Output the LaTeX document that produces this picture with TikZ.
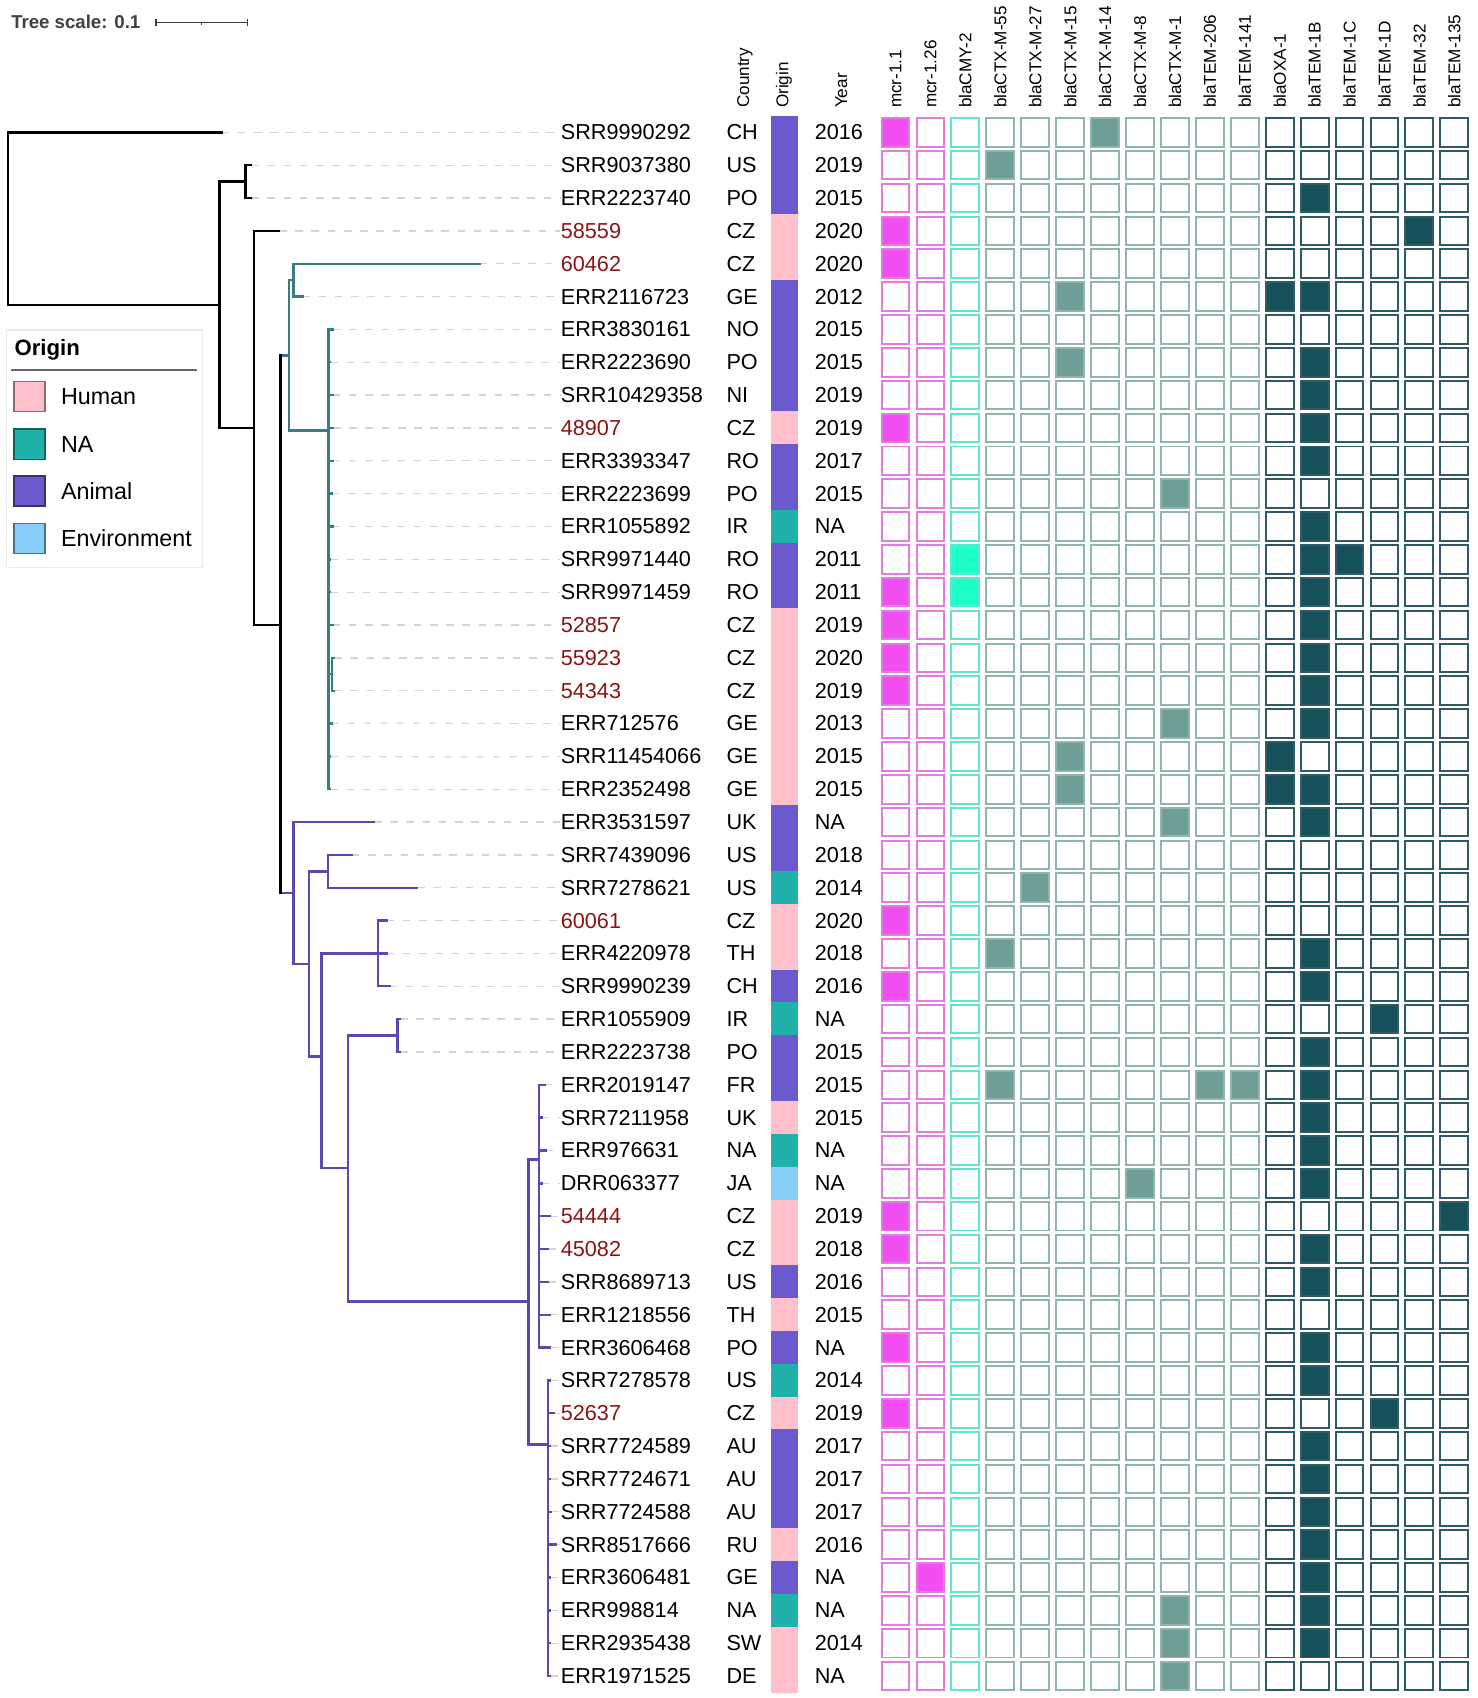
\documentclass[tikz,border=0pt]{standalone}
\usepackage{fontspec}
\setmainfont{Liberation Sans}

\definecolor{human}{HTML}{FFC0CB}
\definecolor{nasrc}{HTML}{20B2AA}
\definecolor{animal}{HTML}{6A5ACD}
\definecolor{environ}{HTML}{87CEFA}
\definecolor{tealclade}{HTML}{3B7B86}
\definecolor{purpleclade}{HTML}{5A4AAE}
\definecolor{czred}{HTML}{8B1414}
\definecolor{line1}{HTML}{E27BE2}
\definecolor{fill1}{HTML}{F24EF2}
\definecolor{line2}{HTML}{5FE5CF}
\definecolor{fill2}{HTML}{1FFFC8}
\definecolor{line3}{HTML}{8FB5AE}
\definecolor{fill3}{HTML}{6F9E97}
\definecolor{line4}{HTML}{2F5B63}
\definecolor{fill4}{HTML}{15505B}

\begin{document}
\begin{tikzpicture}[x=0.5pt, y=-0.5pt,
    branch/.style={line width=1.2pt, line cap=rect},
    tealbranch/.style={branch, draw=tealclade, line width=1.1pt},
    purplebranch/.style={branch, draw=purpleclade, line width=1.1pt},
    guide/.style={draw=black!17, line width=0.6pt, dash pattern=on 3.5pt off 4pt},
    taxon/.style={anchor=west, inner sep=0pt, font=\fontsize{10}{12}\selectfont},
    colhead/.style={rotate=90, anchor=west, inner sep=0pt, font=\fontsize{7.9}{9}\selectfont},
    genebox/.style={draw, line width=0.9pt, minimum width=12.85pt, minimum height=13.2pt, inner sep=0pt, outer sep=0pt},
    originbox/.style={minimum width=12.3pt, minimum height=15.4pt, inner sep=0pt},
    swatch/.style={line width=0.7pt, minimum width=14.2pt, minimum height=13.9pt, inner sep=0pt},
    legtext/.style={anchor=west, inner sep=0pt, font=\fontsize{10.75}{13}\selectfont}]
   \useasboundingbox (0,0) rectangle (1364,1568);

   % tree scale
   \node[anchor=west, inner sep=0pt, text=black!75, font=\bfseries\fontsize{8.6}{10}\selectfont] (treescale) at (10,20) {Tree scale: 0.1};
   \draw[black!75, line width=0.6pt] (144,20.9) -- (228.4,20.9);
   \draw[black!75, line width=0.6pt] (144,17.5) -- (144,24.3);
   \draw[black!75, line width=0.6pt] (228.4,17.5) -- (228.4,24.3);
   \draw[black!75, line width=0.6pt] (186.2,20.9) -- (186.2,23.4);

   % column heads
   \node[colhead] (hcountry) at (688,100) {Country};
   \node[colhead] (horigin) at (724,100) {Origin};
   \node[colhead] (hyear) at (777,100) {Year};
   \foreach \c/\gene in {1/mcr-1.1, 2/mcr-1.26, 3/blaCMY-2, 4/blaCTX-M-55, 5/blaCTX-M-27,
       6/blaCTX-M-15, 7/blaCTX-M-14, 8/blaCTX-M-8, 9/blaCTX-M-1, 10/blaTEM-206, 11/blaTEM-141,
       12/blaOXA-1, 13/blaTEM-1B, 14/blaTEM-1C, 15/blaTEM-1D, 16/blaTEM-32, 17/blaTEM-135}
     \node[colhead] (head\c) at ({826.95+32.25*(\c-1)},100) {\gene};

   % legend
   \draw[black!8, line width=0.6pt] (6.2,304.7) rectangle (186.8,523.9);
   \node[anchor=west, inner sep=0pt, font=\bfseries\fontsize{10.25}{12}\selectfont] (legtitle) at (13,322.8) {Origin};
   \draw[black!60, line width=0.7pt] (10.2,341.7) -- (181.6,341.7);
   \foreach \k/\src/\name/\y in {1/human/Human/366.2, 2/nasrc/NA/410.2, 3/animal/Animal/453.3, 4/environ/Environment/497.3} {
     \node[swatch, fill=\src, draw=\src!55!black] (sw\k) at (27.25,\y) {};
     \node[legtext] (lt\k) at (56,\y) {\name};
   }

   \begin{scope}[y=-15.165pt, yshift=-45.935pt]
   % rows: label, country, origin, year
   \foreach \r/\acc/\cty/\src/\yr/\col in {
       1/SRR9990292/CH/animal/2016/black, 2/SRR9037380/US/animal/2019/black,
       3/ERR2223740/PO/animal/2015/black, 4/58559/CZ/human/2020/czred,
       5/60462/CZ/human/2020/czred, 6/ERR2116723/GE/animal/2012/black,
       7/ERR3830161/NO/animal/2015/black, 8/ERR2223690/PO/animal/2015/black,
       9/SRR10429358/NI/animal/2019/black, 10/48907/CZ/human/2019/czred,
       11/ERR3393347/RO/animal/2017/black, 12/ERR2223699/PO/animal/2015/black,
       13/ERR1055892/IR/nasrc/NA/black, 14/SRR9971440/RO/animal/2011/black,
       15/SRR9971459/RO/animal/2011/black, 16/52857/CZ/human/2019/czred,
       17/55923/CZ/human/2020/czred, 18/54343/CZ/human/2019/czred,
       19/ERR712576/GE/human/2013/black, 20/SRR11454066/GE/human/2015/black,
       21/ERR2352498/GE/human/2015/black, 22/ERR3531597/UK/animal/NA/black,
       23/SRR7439096/US/animal/2018/black, 24/SRR7278621/US/nasrc/2014/black,
       25/60061/CZ/human/2020/czred, 26/ERR4220978/TH/human/2018/black,
       27/SRR9990239/CH/animal/2016/black, 28/ERR1055909/IR/nasrc/NA/black,
       29/ERR2223738/PO/animal/2015/black, 30/ERR2019147/FR/animal/2015/black,
       31/SRR7211958/UK/human/2015/black, 32/ERR976631/NA/nasrc/NA/black,
       33/DRR063377/JA/environ/NA/black, 34/54444/CZ/human/2019/czred,
       35/45082/CZ/human/2018/czred, 36/SRR8689713/US/animal/2016/black,
       37/ERR1218556/TH/human/2015/black, 38/ERR3606468/PO/animal/NA/black,
       39/SRR7278578/US/nasrc/2014/black, 40/52637/CZ/human/2019/czred,
       41/SRR7724589/AU/animal/2017/black, 42/SRR7724671/AU/animal/2017/black,
       43/SRR7724588/AU/animal/2017/black, 44/SRR8517666/RU/human/2016/black,
       45/ERR3606481/GE/animal/NA/black, 46/ERR998814/NA/nasrc/NA/black,
       47/ERR2935438/SW/human/2014/black, 48/ERR1971525/DE/human/NA/black} {
     \node[taxon, text=\col] (lab\r) at (517.5,\r) {\acc};
     \node[taxon] (cty\r) at (670.5,\r) {\cty};
     \node[originbox, fill=\src] (org\r) at (724.3,\r) {};
     \node[taxon] (yr\r) at (752,\r) {\yr};
   }

   % gene boxes
   \foreach \c in {1,...,17} {
     \pgfmathtruncatemacro\grp{\c<3 ? 1 : (\c<4 ? 2 : (\c<12 ? 3 : 4))}
     \foreach \r in {1,...,48}
       \node[genebox, draw=line\grp] (b\r-\c) at ({826.95+32.25*(\c-1)},\r) {};
   }
   \foreach \r/\hits in {1/{1,7}, 2/{4}, 3/{13}, 4/{1,16}, 5/{1}, 6/{6,12,13}, 8/{6,13},
       9/{13}, 10/{1,13}, 11/{13}, 12/{9}, 13/{13}, 14/{3,13,14}, 15/{1,3,13}, 16/{1,13},
       17/{1,13}, 18/{1,13}, 19/{9,13}, 20/{6,12}, 21/{6,12,13}, 22/{9,13}, 24/{5}, 25/{1},
       26/{4,13}, 27/{1,13}, 28/{15}, 29/{13}, 30/{4,10,11,13}, 31/{13}, 32/{13}, 33/{8,13},
       34/{1,17}, 35/{1,13}, 36/{13}, 38/{1,13}, 39/{13}, 40/{1,15}, 41/{13}, 42/{13},
       43/{13}, 44/{13}, 45/{2,13}, 46/{9,13}, 47/{9,13}, 48/{9}}
     \foreach \c in \hits {
       \pgfmathtruncatemacro\grp{\c<3 ? 1 : (\c<4 ? 2 : (\c<12 ? 3 : 4))}
       \filldraw[fill=fill\grp, draw=line\grp, line width=0.9pt] (b\r-\c.south west) rectangle (b\r-\c.north east);
     }

   % tree
   \coordinate (rt) at (7.3,3.63);
   \coordinate (na) at (202.8,6.255);
   \coordinate (nb) at (226.9,2.5);
   \coordinate (nc) at (234.4,10);
   \coordinate (nd) at (258.9,16);
   \coordinate (ne) at (266.6,7.79);
   \coordinate (ng) at (270.9,5.5);
   \coordinate (nh) at (303.5,10.08);
   \coordinate (nh2) at (306.5,17.5);
   \coordinate (nf) at (271.1,24.16);
   \coordinate (ni) at (285.3,26.32);
   \coordinate (nj) at (302.8,23.5);
   \coordinate (nk) at (296.8,29.14);
   \coordinate (nl) at (348.9,26);
   \coordinate (nm) at (321.6,32.54);
   \coordinate (nn) at (367.1,28.5);
   \coordinate (np) at (488.1,36.6);
   \coordinate (nq) at (498,32.27);
   \coordinate (nr) at (506.3,40.95);
   \foreach \r/\x in {1/204.5, 2/231.9, 3/231.9, 4/257.6, 5/443, 6/279.2, 7/307.5, 8/305,
       9/307, 10/307.5, 11/307, 12/306.5, 13/307, 14/305, 15/305, 16/307, 17/308.5, 18/308.5,
       19/306, 20/305, 21/305, 22/345.3, 23/324.9, 24/385.2, 25/356.9, 26/356.9, 27/359.5,
       28/369.4, 29/369.4, 30/503, 31/500, 32/503.6, 33/500, 34/508, 35/506, 36/506, 37/508,
       38/508, 39/508, 40/511, 41/508, 42/508, 43/509, 44/513, 45/508, 46/508, 47/508, 48/508}
     \coordinate (t\r) at (\x,\r);

   \foreach \r in {1,...,48}
     \draw[guide] (t\r) -- (lab\r.west);

   \draw[branch] (rt |- t1) -- (t1);
   \draw[branch] (rt |- na) -- (na);
   \draw[branch] (rt |- t1) -- (rt |- na);
   \draw[branch] (na |- nb) -- (nb);
   \draw[branch] (na |- nc) -- (nc);
   \draw[branch] (na |- nb) -- (na |- nc);
   \draw[branch] (nb |- t2) -- (t2);
   \draw[branch] (nb |- t3) -- (t3);
   \draw[branch] (nb |- t2) -- (nb |- t3);
   \draw[branch] (nc |- t4) -- (t4);
   \draw[branch] (nc |- nd) -- (nd);
   \draw[branch] (nc |- t4) -- (nc |- nd);

   \draw[tealbranch] (nd |- ne) -- (ne);
   \draw[tealbranch] (ne |- ng) -- (ng);
   \draw[tealbranch] (ne |- nh) -- (nh);
   \draw[tealbranch] (ne |- ng) -- (ne |- nh);
   \draw[tealbranch] (ng |- t5) -- (t5);
   \draw[tealbranch] (ng |- t6) -- (t6);
   \draw[tealbranch] (ng |- t5) -- (ng |- t6);
   \foreach \r in {7,...,16,19,20,21}
     \draw[tealbranch] (nh |- t\r) -- (t\r);
   \draw[tealbranch] (nh |- nh2) -- (nh2);
   \draw[tealbranch] (nh |- t7) -- (nh |- t21);
   \draw[tealbranch] (nh2 |- t17) -- (t17);
   \draw[tealbranch] (nh2 |- t18) -- (t18);
   \draw[tealbranch] (nh2 |- t17) -- (nh2 |- t18);

   \draw[purplebranch] (nd |- nf) -- (nf);
   \draw[purplebranch] (nf |- t22) -- (t22);
   \draw[purplebranch] (nf |- ni) -- (ni);
   \draw[purplebranch] (nf |- t22) -- (nf |- ni);
   \draw[purplebranch] (ni |- nj) -- (nj);
   \draw[purplebranch] (ni |- nk) -- (nk);
   \draw[purplebranch] (ni |- nj) -- (ni |- nk);
   \draw[purplebranch] (nj |- t23) -- (t23);
   \draw[purplebranch] (nj |- t24) -- (t24);
   \draw[purplebranch] (nj |- t23) -- (nj |- t24);
   \draw[purplebranch] (nk |- nl) -- (nl);
   \draw[purplebranch] (nk |- nm) -- (nm);
   \draw[purplebranch] (nk |- nl) -- (nk |- nm);
   \foreach \r in {25,26,27}
     \draw[purplebranch] (nl |- t\r) -- (t\r);
   \draw[purplebranch] (nl |- t25) -- (nl |- t27);
   \draw[purplebranch] (nm |- nn) -- (nn);
   \draw[purplebranch] (nm |- np) -- (np);
   \draw[purplebranch] (nm |- nn) -- (nm |- np);
   \draw[purplebranch] (nn |- t28) -- (t28);
   \draw[purplebranch] (nn |- t29) -- (t29);
   \draw[purplebranch] (nn |- t28) -- (nn |- t29);
   \draw[purplebranch] (np |- nq) -- (nq);
   \draw[purplebranch] (np |- nr) -- (nr);
   \draw[purplebranch] (np |- nq) -- (np |- nr);
   \foreach \r in {30,...,38}
     \draw[purplebranch] (nq |- t\r) -- (t\r);
   \draw[purplebranch] (nq |- t30) -- (nq |- t38);
   \foreach \r in {39,...,48}
     \draw[purplebranch] (nr |- t\r) -- (t\r);
   \draw[purplebranch] (nr |- t39) -- (nr |- t48);

   \draw[branch] (nd |- ne) -- (nd |- nf);
   \end{scope}
\end{tikzpicture}
\end{document}
